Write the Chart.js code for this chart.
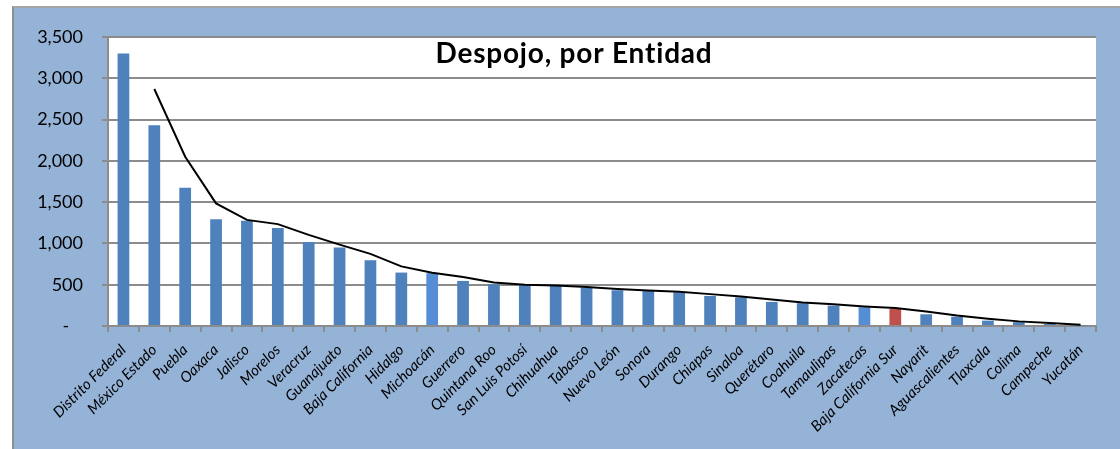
<!DOCTYPE html>
<html>
<head>
<meta charset="utf-8">
<script src="https://cdn.jsdelivr.net/npm/chart.js@4.4.1/dist/chart.umd.min.js"></script>
<style>
  html, body { margin: 0; padding: 0; background: #ffffff; }
  #wrap { position: relative; width: 1120px; height: 449px; overflow: hidden; }
  #frame { position: absolute; left: 12px; top: 6px; width: 1200px; height: 500px;
           background: #95B3D7; border-left: 2px solid #8e8e8e; border-top: 2px solid #a6a6a6; }
  #c { position: absolute; left: 0; top: 0; }
</style>
</head>
<body>
<div id="wrap">
  <div id="frame"></div>
  <canvas id="c" width="1120" height="449"></canvas>
</div>
<script>
const chartTitle = 'Despojo, por Entidad';

const categories = [
  'Distrito Federal', 'México Estado', 'Puebla', 'Oaxaca', 'Jalisco', 'Morelos',
  'Veracruz', 'Guanajuato', 'Baja California', 'Hidalgo', 'Michoacán', 'Guerrero',
  'Quintana Roo', 'San Luis Potosí', 'Chihuahua', 'Tabasco', 'Nuevo León', 'Sonora',
  'Durango', 'Chiapas', 'Sinaloa', 'Querétaro', 'Coahuila', 'Tamaulipas',
  'Zacatecas', 'Baja California Sur', 'Nayarit', 'Aguascalientes', 'Tlaxcala',
  'Colima', 'Campeche', 'Yucatán'
];

// Bar values
const despojo = [
  3300, 2430, 1675, 1292, 1276, 1188,
  1018, 950, 796, 647, 640, 546,
  505, 497, 485, 460, 433, 424,
  408, 364, 347, 292, 276, 247,
  227, 210, 142, 113, 65,
  47, 24, 5
];

// Trend line (2-period moving average line as drawn in the picture)
const trendLine = [
  null, 2870, 2050, 1485, 1285, 1234,
  1104, 985, 874, 722, 644, 594,
  526, 501, 491, 472, 447, 429,
  416, 386, 356, 320, 284, 262,
  237, 219, 176, 128, 89,
  56, 36, 15
];

const yTicks = [0, 500, 1000, 1500, 2000, 2500, 3000, 3500];

const lighterBars = ['Michoacán', 'Zacatecas'];
const redBars = ['Baja California Sur'];
const barColors = categories.map(c =>
  redBars.includes(c) ? '#C0504D' : (lighterBars.includes(c) ? '#558ED5' : '#4F81BD'));

const insideTitle = {
  id: 'insideTitle',
  afterDraw(chart) {
    const ctx = chart.ctx;
    ctx.save();
    ctx.font = 'bold 28px Lato';
    try { ctx.letterSpacing = '0.8px'; } catch (e) {}
    ctx.fillStyle = '#000';
    ctx.textAlign = 'center';
    ctx.textBaseline = 'alphabetic';
    ctx.fillText(chartTitle, 574, 63);
    ctx.restore();
  }
};

const chartAreaBg = {
  id: 'chartAreaBg',
  beforeDraw(chart) {
    const a = chart.chartArea, ctx = chart.ctx;
    ctx.save();
    ctx.fillStyle = '#ffffff';
    ctx.fillRect(a.left, a.top, a.right - a.left, a.bottom - a.top);
    ctx.restore();
  }
};

new Chart(document.getElementById('c'), {
  data: {
    labels: categories,
    datasets: [
      {
        type: 'line',
        data: trendLine,
        borderColor: '#000000',
        borderWidth: 2,
        pointRadius: 0,
        tension: 0,
        fill: false,
        order: 0
      },
      {
        type: 'bar',
        data: despojo,
        backgroundColor: barColors,
        borderWidth: 0,
        barPercentage: 0.38,
        categoryPercentage: 1.0,
        order: 1
      }
    ]
  },
  options: {
    responsive: false,
    animation: false,
    devicePixelRatio: 1,
    layout: { padding: { top: 37, right: 24, left: 0, bottom: 0 } },
    plugins: { legend: { display: false }, tooltip: { enabled: false }, title: { display: false } },
    scales: {
      x: {
        afterFit(scale) { scale.height = 123; },
        grid: { display: true, drawOnChartArea: false, drawTicks: true, tickLength: 6,
                color: '#8c8c8c', lineWidth: 2, offset: true },
        border: { display: true, color: '#8c8c8c', width: 2 },
        ticks: {
          autoSkip: false, minRotation: 45, maxRotation: 45, padding: 9,
          color: '#000', font: { family: 'Lato', size: 15, style: 'italic' }
        }
      },
      y: {
        min: 0, max: 3500,
        afterFit(scale) { scale.width = 108; },
        afterBuildTicks(scale) { scale.ticks = yTicks.map(v => ({ value: v })); },
        grid: { color: '#8c8c8c', lineWidth: 2, tickLength: 6 },
        border: { display: true, color: '#8c8c8c', width: 2 },
        ticks: {
          padding: 19, color: '#000',
          font: { family: 'Lato', size: 18 },
          callback: v => v === 0 ? '-   ' : v.toLocaleString('en-US')
        }
      }
    }
  },
  plugins: [chartAreaBg, insideTitle]
});
</script>
</body>
</html>
